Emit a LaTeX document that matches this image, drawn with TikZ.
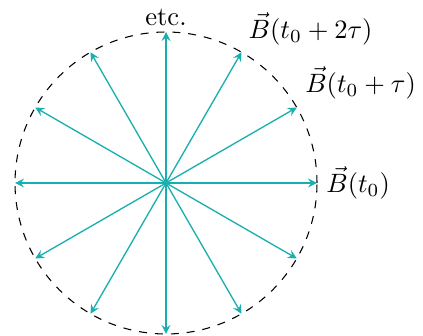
\documentclass[tikz,border=0pt]{standalone}
\usepackage{amsmath}
\usetikzlibrary{arrows}
\usepackage{xcolor}

\definecolor{fieldcol}{RGB}{25,175,175}

\begin{document}
\begin{tikzpicture}[vec/.style={fieldcol, -stealth, line width=0.5pt}]

\useasboundingbox (-2.199,-2.026) rectangle (3.404,2.424);

% rotating field, sampled every tau
\coordinate (O) at (0,0);
\draw[dashed] (O) circle (2);

% one arrow every 30 degrees
\foreach \a in {0,30,...,330}{
  \coordinate (p\a) at (\a:2);
  \draw[vec] (O) -- (p\a);
}

% labels
\node[anchor=west] (b0) at (p0) {$\vec{B}(t_0)$};
\node[anchor=south west, inner sep=3pt] (b1) at (p30) {$\vec{B}(t_0+\tau)$};
\node[anchor=south west, inner sep=2.5pt] (b2) at (p60) {$\vec{B}(t_0+2\tau)$};
\node[anchor=south, inner sep=2pt] (etc) at (p90) {etc.};

\end{tikzpicture}
\end{document}
